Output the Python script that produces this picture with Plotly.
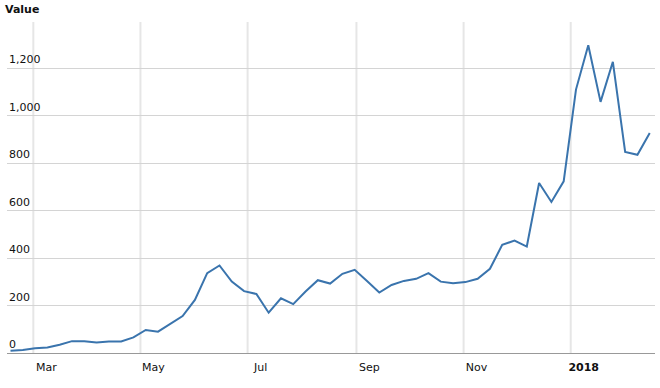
import pandas as pd
import plotly.graph_objects as go

dates = pd.date_range("2017-02-16", periods=53, freq="7D")
values = [10, 13, 20, 23, 35, 50, 50, 44, 48, 49,
          66, 97, 90, 122, 156, 224, 337, 369, 301, 261,
          249, 170, 231, 206, 259, 307, 293, 334, 351, 304,
          255, 287, 304, 313, 337, 301, 294, 299, 313, 355,
          456, 474, 449, 717, 637, 724, 1111, 1298, 1059, 1228,
          848, 836, 928]

x_tickvals = ["2017-03-01", "2017-05-01", "2017-07-01", "2017-09-01", "2017-11-01", "2018-01-01"]
x_ticktext = ["Mar", "May", "Jul", "Sep", "Nov", "<b>2018</b>"]
y_tickvals = [0, 200, 400, 600, 800, 1000, 1200]
y_ticktext = ["0", "200", "400", "600", "800", "1,000", "1,200"]

fig = go.Figure()

# vertical month gridlines at the x tick positions (drawn below the data)
for xv in x_tickvals:
    fig.add_vline(x=xv, line=dict(color="#e6e6e6", width=2), layer="below")

fig.add_trace(go.Scatter(
    x=dates, y=values, mode="lines",
    line=dict(color="#3a74ad", width=2),
    showlegend=False,
))

# y tick labels: left-aligned inside the plot, sitting just above each gridline
for v, t in zip(y_tickvals, y_ticktext):
    fig.add_annotation(
        x=0, xref="paper", y=v, yref="y", text=t, showarrow=False,
        xanchor="left", yanchor="bottom", xshift=0, yshift=0,
        font=dict(family="DejaVu Sans", size=11, color="#111111"),
    )

fig.update_layout(
    width=660, height=388,
    margin=dict(l=7, r=5, t=22, b=35),
    plot_bgcolor="white", paper_bgcolor="white",
    font=dict(family="DejaVu Sans", size=11, color="#111111"),
    title=dict(text="<b>Value</b>", x=5/660, xanchor="left", xref="container",
               y=1-9/388, yanchor="middle", yref="container",
               font=dict(family="DejaVu Sans", size=11, color="#111111")),
    xaxis=dict(
        range=["2017-02-14", "2018-02-18"],
        tickvals=x_tickvals, ticktext=x_ticktext,
        showgrid=False,
        showline=True, linecolor="#999999", linewidth=1,
        ticks="", ticklabelshift=13, ticklabelstandoff=4,
        zeroline=False,
    ),
    yaxis=dict(
        range=[0, 1396],
        tickvals=y_tickvals,
        showticklabels=False,
        showgrid=True, gridcolor="#d4d4d4", gridwidth=1,
        ticks="", zeroline=False, showline=False,
    ),
)

fig.write_html("out.html")
